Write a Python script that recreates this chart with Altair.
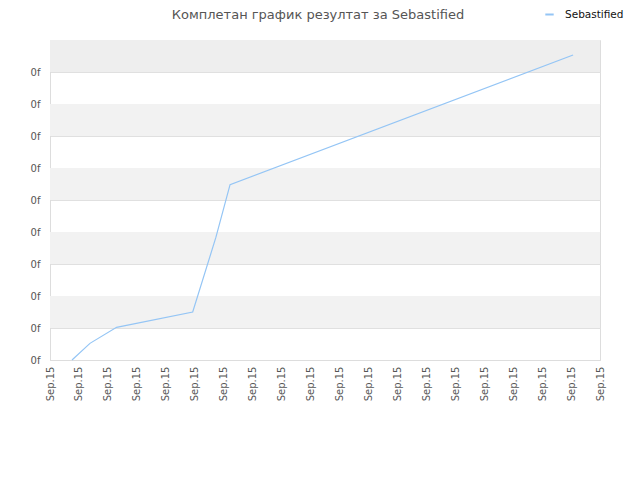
import altair as alt
import pandas as pd

# data
x_pos = [0.76, 1.38, 2.3, 4.93, 5.73, 6.22, 18.07]
y_val = [0.0, 0.52, 1.02, 1.5, 3.83, 5.48, 9.53]
series = ["Sebastified"] * len(x_pos)
x_ticks = list(range(0, 20))
x_label = "Sep.15"
y_ticks = list(range(0, 10))
y_label = "0f"
band_lo = [1, 3, 5, 7, 9]
band_hi = [2, 4, 6, 8, 10]
band_col = ["#f2f2f2", "#f2f2f2", "#f2f2f2", "#f2f2f2", "#eeeeee"]
title_text = ["Комплетан график резултат за Sebastified"]

df = pd.DataFrame({"x": x_pos, "y": y_val, "s": series})
bands = pd.DataFrame({"lo": band_lo, "hi": band_hi, "c": band_col})
tdf = pd.DataFrame({"t": title_text})

FONT = "DejaVu Sans"

xscale = alt.Scale(domain=[0, 19], nice=False, zero=False)
yscale = alt.Scale(domain=[0, 10], nice=False)

yaxis = alt.Axis(
    values=y_ticks,
    labelExpr=f"'{y_label}'",
    labelOverlap=False,
    ticks=False,
    grid=True,
    gridColor="#e0e0e0",
    domain=True,
    domainColor="#dddddd",
    labelColor="#555555",
    labelFont=FONT,
    labelFontSize=10,
    labelPadding=10,
    title=None,
)

band_layer = alt.Chart(bands).mark_rect().encode(
    x=alt.value(0),
    x2=alt.value(550),
    y=alt.Y("lo:Q", scale=yscale, axis=yaxis),
    y2="hi:Q",
    color=alt.Color("c:N", scale=None),
)

line = alt.Chart(df).mark_line(strokeWidth=1.2).encode(
    x=alt.X(
        "x:Q",
        scale=xscale,
        axis=alt.Axis(
            values=x_ticks,
            labelExpr=f"'{x_label}'",
            labelAngle=270,
            labelAlign="right",
            labelBaseline="middle",
            labelPadding=6,
            labelOverlap=False,
            ticks=False,
            grid=False,
            domain=True,
            domainColor="#dddddd",
            labelColor="#555555",
            labelFont=FONT,
            labelFontSize=10,
            title=None,
        ),
    ),
    y=alt.Y("y:Q", scale=yscale, axis=yaxis),
    color=alt.Color(
        "s:N",
        scale=alt.Scale(range=["#94c5f5"]),
        legend=alt.Legend(
            title=None,
            orient="none",
            legendX=494,
            legendY=-31,
            symbolType="stroke",
            symbolSize=70,
            symbolStrokeWidth=2,
            labelOffset=10,
            labelFont=FONT,
            labelFontSize=10.5,
            labelColor="#111111",
        ),
    ),
)

title_layer = alt.Chart(tdf).mark_text(
    font=FONT,
    fontSize=13,
    color="#555555",
    align="center",
    baseline="middle",
).encode(
    text="t:N",
    x=alt.value(268),
    y=alt.value(-25),
)

chart = (
    alt.layer(band_layer, line, title_layer)
    .resolve_axis(y="shared")
    .properties(
        width=550,
        height=320,
        autosize=alt.AutoSizeParams(type="none"),
        padding={"left": 42, "top": 32, "right": 32, "bottom": 112},
    )
    .configure_view(stroke="#dddddd")
)

chart.save("out.html", embed_options={"renderer": "svg", "actions": False})
